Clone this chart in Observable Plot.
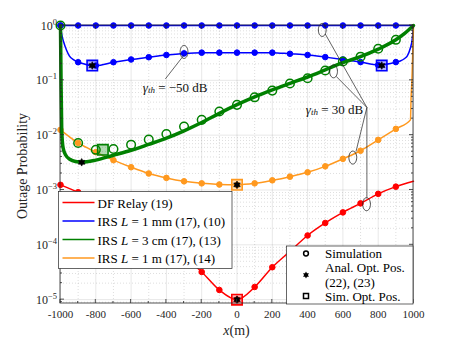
<!DOCTYPE html>
<html><head><meta charset="utf-8">
<script src="https://cdn.jsdelivr.net/npm/d3@7"></script>
<script src="https://cdn.jsdelivr.net/npm/@observablehq/plot@0.6"></script>
<style>body{margin:0;background:#fff;} #chart{width:457px;height:343px;}</style>
</head><body><div id="chart"></div>
<script>
// ---------- data ----------
const xSim = [-1000,-900,-800,-700,-600,-500,-400,-300,-200,-100,0,100,200,300,400,500,600,700,800,900];
const blueHighSim = [1,1,1,1,1,1,1,1,1,1,1,1,1,1,1,1,1,1,1,1];
const blueLowSim  = [1,0.214,0.186,0.214,0.24,0.264,0.29,0.31,0.32,0.32,0.32,0.32,0.32,0.305,0.29,0.265,0.24,0.215,0.19,0.215];
const greenSim    = [1,0.0072,0.0054,0.0056,0.0067,0.0083,0.0105,0.0144,0.019,0.027,0.0357,0.049,0.065,0.0874,0.109,0.151,0.22,0.27,0.376,0.548];
const orangeSim   = [0.0125,0.0072,0.0049,0.0035,0.0026,0.0020,0.00166,0.00144,0.00132,0.00126,0.00124,0.00132,0.0015,0.00175,0.0021,0.0027,0.0037,0.0052,0.0082,0.013];
const redSim      = [0.00124,0.00091,0.00065,0.00043,0.00028,0.00018,0.00011,0.00006,0.000032,0.000015,0.00001,0.000017,0.000039,0.000076,0.000148,0.00025,0.00039,0.00057,0.00085,0.00115];

const blueHighLineX = [-1000,1000];
const blueHighLineY = [1,1];
const blueLowLineX = [-1000,-994,-982,-965,-950,-925,-900,-800,-700,-600,-500,-400,-300,-200,-100,0,100,200,300,400,500,600,700,800,900,925,950,965,981,994,1000];
const blueLowLineY = [1,0.72,0.5,0.35,0.28,0.235,0.214,0.186,0.214,0.24,0.264,0.29,0.31,0.32,0.32,0.32,0.32,0.32,0.305,0.29,0.265,0.24,0.215,0.19,0.214,0.225,0.25,0.28,0.376,0.6,1];
const greenLineX = [-1000,-997,-993,-985,-970,-945,-915,-880,-800,-700,-600,-500,-400,-300,-200,-100,0,100,200,300,400,500,600,700,800,900,950,1000];
const greenLineY = [1,0.1,0.012,0.0058,0.0043,0.0036,0.0033,0.0032,0.0035,0.0043,0.0053,0.0068,0.0088,0.012,0.017,0.025,0.036,0.05,0.067,0.088,0.115,0.155,0.21,0.27,0.37,0.55,0.72,1];
const orangeLineX = [-1000,-900,-800,-700,-600,-500,-400,-300,-200,-100,0,100,200,300,400,500,600,700,800,900,983,986,991,996,1000];
const orangeLineY = [0.0125,0.0072,0.0049,0.0035,0.0026,0.0020,0.00166,0.00144,0.00132,0.00126,0.00124,0.00132,0.0015,0.00175,0.0021,0.0027,0.0037,0.0052,0.0082,0.013,0.019,0.045,0.1,0.35,1];
const redLineX = [-1000,-900,-800,-700,-600,-500,-400,-300,-200,-100,0,100,200,300,400,500,600,700,800,900,1000];
const redLineY = [0.00124,0.00091,0.00065,0.00043,0.00028,0.00018,0.00011,0.00006,0.000032,0.000015,0.00001,0.000017,0.000039,0.000076,0.000148,0.00025,0.00039,0.00057,0.00085,0.00115,0.00144];

// optimal positions
const optSeries = ["blue","blue","green","orange","red"];
const simOptX = [-820,820,-760,0,0];
const simOptY = [0.186,0.186,0.0054,0.00124,0.00001];
const analOptX = [-820,820,-880,0,0];
const analOptY = [0.186,0.186,0.0032,0.00124,0.00001];

// annotation ellipses and leader lines
const ellX = [-300,483,547,656,734];
const ellY = [0.33,0.83,0.146,0.0039,0.00055];
const leadX1 = [-300,736,736,736,736];
const leadY1 = [0.29,0.032,0.032,0.032,0.032];
const leadX2 = [-406,500,562,674,736];
const leadY2 = [0.106,0.7,0.118,0.005,0.00072];

const xMajor = [-1000,-800,-600,-400,-200,0,200,400,600,800,1000];
const xMinor = [-900,-700,-500,-300,-100,100,300,500,700,900];
const yMajorExp = [0,-1,-2,-3,-4,-5];
const yMinorMant = [2,3,4,5,6,7,8,9];

const legendLabels = [
  ["DF Relay (19)"],
  ["IRS ", "L", " = 1 mm (17), (10)"],
  ["IRS ", "L", " = 3 cm (17), (13)"],
  ["IRS ", "L", " = 1 m (17), (14)"]
];
const markerLegendLabels = ["Simulation","Anal. Opt. Pos.","(22), (23)","Sim. Opt. Pos."];
const colors = {blue:"#0000ff", green:"#008000", orange:"#ff991f", red:"#ff0000"};
const legendColors = [colors.red, colors.blue, colors.green, colors.orange];

// ---------- tables ----------
const tbl = (xs, ys) => xs.map((x,i)=>({x, y: ys[i]}));
const yMajor = yMajorExp.map(e => Math.pow(10,e));
const yMinor = [];
for (const e of [-6,-5,-4,-3,-2,-1]) for (const m of yMinorMant) { const v = m*Math.pow(10,e); if (v>8.5e-6 && v<1) yMinor.push(v); }
const optTbl = simOptX.map((x,i)=>({x, y: simOptY[i], s: optSeries[i]}));
const anaTbl = tbl(analOptX, analOptY);
const ellTbl = tbl(ellX, ellY);
const leadTbl = leadX1.map((x,i)=>({x1:x, y1:leadY1[i], x2:leadX2[i], y2:leadY2[i]}));

// custom symbols
const hexagram = {draw(ctx, size){ const r=Math.sqrt(size/Math.PI), ri=r/Math.sqrt(3);
  for(let i=0;i<12;i++){const a=Math.PI/6*i-Math.PI/2, rr=i%2?ri:r; const px=rr*Math.cos(a), py=rr*Math.sin(a); if(i) ctx.lineTo(px,py); else ctx.moveTo(px,py);} ctx.closePath();}};
const squareSym = {draw(ctx, size){ const r=Math.sqrt(size/Math.PI); ctx.moveTo(-r,-r); ctx.lineTo(r,-r); ctx.lineTo(r,r); ctx.lineTo(-r,r); ctx.closePath(); }};
const ellipseSym = {draw(ctx, size){ const r=Math.sqrt(size/Math.PI), rx=r*0.6, ry=r, k=0.5523;
  ctx.moveTo(rx,0); ctx.bezierCurveTo(rx,ry*k,rx*k,ry,0,ry); ctx.bezierCurveTo(-rx*k,ry,-rx,ry*k,-rx,0);
  ctx.bezierCurveTo(-rx,-ry*k,-rx*k,-ry,0,-ry); ctx.bezierCurveTo(rx*k,-ry,rx,-ry*k,rx,0); ctx.closePath(); }};

const FONT = "'Liberation Serif', 'DejaVu Serif', serif";
const lineOpts = (c, w) => ({x:"x", y:"y", stroke:c, strokeWidth:w, curve:"monotone-x"});

const plot = Plot.plot({
  width: 457, height: 343,
  marginLeft: 60, marginRight: 44, marginTop: 25, marginBottom: 40,
  x: {domain: [-1000, 1000], ticks: [], label: null},
  y: {type: "log", domain: [8.5e-6, 1], ticks: [], label: null},
  style: {fontFamily: FONT, fontSize: "11px", background: "#fff", overflow: "visible"},
  marks: [
    Plot.gridY(yMinor, {stroke:"#b0b0b0", strokeOpacity:0.7, strokeDasharray:"1,2", strokeWidth:0.6}),
    Plot.gridX(xMinor, {stroke:"#b0b0b0", strokeOpacity:0.7, strokeDasharray:"1,2", strokeWidth:0.6}),
    Plot.gridY(yMajor, {stroke:"#000", strokeOpacity:0.12, strokeWidth:0.8}),
    Plot.gridX(xMajor, {stroke:"#000", strokeOpacity:0.12, strokeWidth:0.8}),
    Plot.axisX(xMajor, {anchor:"bottom", tickSize:0, tickPadding:7, tickFormat: d => String(d), fontSize:11, fill:"#262626", label:null}),
    // red
    Plot.line(tbl(redLineX, redLineY), lineOpts(colors.red, 1.5)),
    Plot.dot(tbl(xSim, redSim), {x:"x", y:"y", r:2.8, fill:colors.red, stroke:colors.red, strokeWidth:1}),
    // blue
    Plot.line(tbl(blueHighLineX, blueHighLineY), {x:"x", y:"y", stroke:colors.blue, strokeWidth:1.5}),
    Plot.dot(tbl(xSim, blueHighSim), {x:"x", y:"y", r:2.8, fill:colors.blue, stroke:colors.blue, strokeWidth:1}),
    Plot.line(tbl(blueLowLineX, blueLowLineY), lineOpts(colors.blue, 1.5)),
    Plot.dot(tbl(xSim, blueLowSim), {x:"x", y:"y", r:2.8, fill:colors.blue, stroke:colors.blue, strokeWidth:1}),
    // orange
    Plot.line(tbl(orangeLineX, orangeLineY), lineOpts(colors.orange, 1.5)),
    Plot.dot(tbl(xSim, orangeSim), {x:"x", y:"y", r:2.8, fill:colors.orange, stroke:colors.orange, strokeWidth:1}),
    // green
    Plot.line(tbl(greenLineX, greenLineY), lineOpts(colors.green, 3.5)),
    Plot.dot(tbl(xSim, greenSim), {x:"x", y:"y", r:4.3, fill:"none", stroke:colors.green, strokeWidth:1.5}),
    // optimal positions
    Plot.dot(optTbl, {x:"x", y:"y", symbol: squareSym, r:5.2, stroke: d => colors[d.s], fill: d => colors[d.s], fillOpacity:0.3, strokeWidth:1.6}),
    Plot.dot(anaTbl, {x:"x", y:"y", symbol: hexagram, r:3.8, fill:"#000", stroke:"#000", strokeWidth:0.6}),
    // annotations
    Plot.link(leadTbl, {x1:"x1", y1:"y1", x2:"x2", y2:"y2", stroke:"#222", strokeWidth:0.7}),
    Plot.dot(ellTbl, {x:"x", y:"y", symbol: ellipseSym, r:6.5, fill:"none", stroke:"#222", strokeWidth:0.8})
  ]
});
document.getElementById("chart").appendChild(plot);

// ---------- overlay: frame ticks, tick labels, legends ----------
const svg = d3.select(plot);
const xs = plot.scale("x"), ys = plot.scale("y");
const X = v => xs.apply(v), Y = v => ys.apply(v);
const L = X(-1000), R = X(1000), T = Y(1), B = Y(8.5e-6);
const axc = "#262626";
const g = svg.append("g").attr("stroke", axc).attr("stroke-width", 0.8).attr("fill","none");
for (const v of xMajor) { g.append("line").attr("x1",X(v)).attr("x2",X(v)).attr("y1",B).attr("y2",B-4); g.append("line").attr("x1",X(v)).attr("x2",X(v)).attr("y1",T).attr("y2",T+4); }
for (const v of xMinor) { g.append("line").attr("x1",X(v)).attr("x2",X(v)).attr("y1",B).attr("y2",B-2); g.append("line").attr("x1",X(v)).attr("x2",X(v)).attr("y1",T).attr("y2",T+2); }
for (const v of yMajor) { g.append("line").attr("x1",L).attr("x2",L+4).attr("y1",Y(v)).attr("y2",Y(v)); g.append("line").attr("x1",R).attr("x2",R-4).attr("y1",Y(v)).attr("y2",Y(v)); }
for (const v of yMinor) { g.append("line").attr("x1",L).attr("x2",L+2).attr("y1",Y(v)).attr("y2",Y(v)); g.append("line").attr("x1",R).attr("x2",R-2).attr("y1",Y(v)).attr("y2",Y(v)); }
g.append("rect").attr("x",L).attr("y",T).attr("width",R-L).attr("height",B-T);

// y tick labels 10^k
const tl = svg.append("g").attr("font-family", FONT).attr("fill", axc);
yMajorExp.forEach(e => {
  const t = tl.append("text").attr("x", L-3).attr("y", Y(Math.pow(10,e))+4.5).attr("text-anchor","end").attr("font-size",12);
  t.append("tspan").text("10");
  t.append("tspan").attr("dy",-5).attr("font-size",8.5).text(e===0 ? "0" : "\u2212" + (-e));
});
// axis labels
const xl = svg.append("text").attr("x", X(0)).attr("y", 335).attr("text-anchor","middle").attr("font-family",FONT).attr("font-size",14).attr("fill",axc);
xl.append("tspan").attr("font-style","italic").text("x");
xl.append("tspan").text("(m)");
svg.append("text").attr("transform",`translate(22,${(T+B)/2+2}) rotate(-90)`).attr("text-anchor","middle").attr("dominant-baseline","central")
  .attr("font-family",FONT).attr("font-size",14).attr("fill",axc).text("Outage Probability");

// annotation texts
const ann = svg.append("g").attr("font-family",FONT).attr("font-size",13).attr("fill","#111");
function gammaText(x, y, anchor, rest){
  const t = ann.append("text").attr("x",x).attr("y",y).attr("text-anchor",anchor).attr("dominant-baseline","central");
  t.append("tspan").attr("font-style","italic").text("\u03b3");
  t.append("tspan").attr("font-style","italic").attr("font-size",9).attr("dy",3).text("th");
  t.append("tspan").attr("dy",-3).text(rest);
}
gammaText(X(-531), Y(0.074), "start", " = \u221250 dB");
gammaText(X(718), Y(0.0293), "end", " = 30 dB");

// legend 1
const lg = svg.append("g").attr("font-family",FONT).attr("font-size",13).attr("fill","#000").attr("text-anchor","start");
lg.append("rect").attr("x",L-1.5).attr("y",191.5).attr("width",233.5-L).attr("height",77).attr("fill","#fff").attr("stroke",axc).attr("stroke-width",0.7);
const rowsY = [202.5, 221, 239.5, 258];
legendLabels.forEach((parts,i) => {
  lg.append("line").attr("x1",62.5).attr("x2",94.5).attr("y1",rowsY[i]).attr("y2",rowsY[i]).attr("stroke",legendColors[i]).attr("stroke-width",1.5);
  const t = lg.append("text").attr("x",97.5).attr("y",rowsY[i]).attr("text-anchor","start").attr("dominant-baseline","central");
  parts.forEach((p,j) => { const s = t.append("tspan").text(p); if (j===1) s.attr("font-style","italic"); });
});
// legend 2
const lg2 = svg.append("g").attr("font-family",FONT).attr("font-size",13).attr("fill","#000").attr("text-anchor","start");
lg2.append("rect").attr("x",286.5).attr("y",246).attr("width",R-286.5).attr("height",B-246+1).attr("fill","#fff").attr("stroke",axc).attr("stroke-width",0.7);
lg2.append("circle").attr("cx",306).attr("cy",253.5).attr("r",2.4).attr("fill","none").attr("stroke","#000").attr("stroke-width",1.5);
lg2.append("path").attr("transform","translate(306,275)").attr("d", (()=>{const p=d3.path(); hexagram.draw(p, Math.PI*3.4*3.4); return p.toString();})()).attr("fill","#000");
lg2.append("rect").attr("x",303.5).attr("y",293.5).attr("width",5).attr("height",5).attr("fill","none").attr("stroke","#000").attr("stroke-width",1.5);
const rows2 = [253.5, 267.5, 282, 296.5];
markerLegendLabels.forEach((s,i) => {
  lg2.append("text").attr("x",325).attr("y",rows2[i]).attr("text-anchor","start").attr("dominant-baseline","central").text(s);
});
</script>
</body></html>
